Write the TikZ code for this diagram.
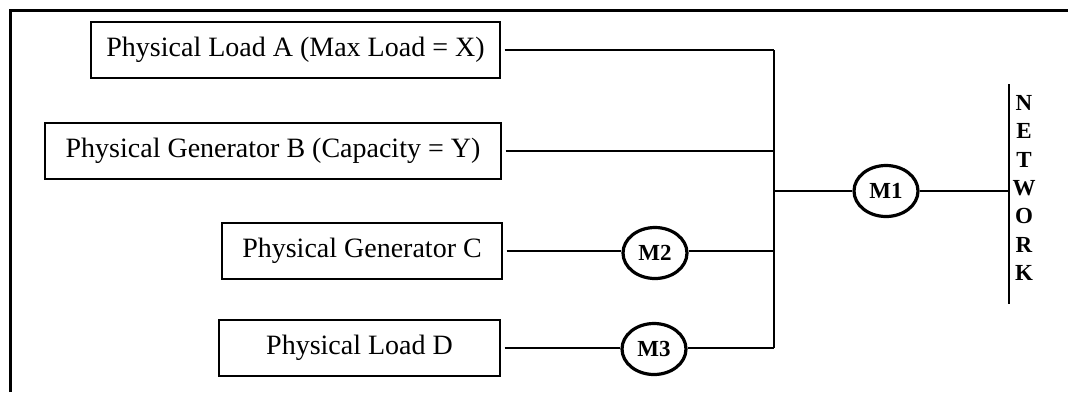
\documentclass[tikz,border=0pt]{standalone}
\usepackage{fontspec}
\setmainfont{Liberation Serif}
\usetikzlibrary{shapes.geometric}

\begin{document}
\begin{tikzpicture}[x=0.5pt,y=-0.5pt]
\tikzstyle{every node}+=[inner sep=0pt]
\tikzstyle{unit}=[draw, line width=0.6pt, font=\fontsize{14}{16}\selectfont, minimum height=28pt]
\tikzstyle{meter}=[draw, ellipse, line width=1.6pt, minimum width=32pt, minimum height=25.5pt, font=\fontsize{11.5}{13}\selectfont\bfseries]
\tikzstyle{wire}=[line width=0.6pt]
\useasboundingbox (0,0) rectangle (1068,392);
% frame
\draw [line width=1.5pt] (10,392) -- (10,10) -- (1068,10);
% units
\node [unit, minimum width=204.5pt] (loadA) at (295.5,50) {Physical Load A (Max Load = X)};
\node [unit, minimum width=228pt] (genB) at (273,151) {Physical Generator B (Capacity = Y)};
\node [unit, minimum width=140pt] (genC) at (362,251) {Physical Generator C};
\node [unit, minimum width=140.5pt] (loadD) at (359.5,348) {Physical Load D};
% meters
\node [meter] (m1) at (886,191) {M1};
\node [meter] (m2) at (655,253) {M2};
\node [meter] (m3) at (654,349) {M3};
% bus and network
\coordinate (bus) at (774,0);
\coordinate (netTop) at (1009,84);
\coordinate (netBot) at (1009,304);
\node [align=center, font=\fontsize{11.5}{14.2}\selectfont\bfseries] (net) at (1024,188) {N\\E\\T\\W\\O\\R\\K};
\draw [wire] (netTop) -- (netBot);
\draw [wire] (loadA.east) ++(4,0) -- (loadA -| bus);
\draw [wire] (genB.east) ++(4,0) -- (genB -| bus);
\draw [wire] (genC.east) ++(4,0) -- (genC -| m2.west);
\draw [wire] (genC -| m2.east) -- (genC -| bus);
\draw [wire] (loadD.east) ++(4,0) -- (loadD -| m3.west);
\draw [wire] (loadD -| m3.east) -- (loadD -| bus);
\draw [wire] (loadA -| bus) -- (loadD -| bus);
\draw [wire] (m1 -| bus) -- (m1);
\draw [wire] (m1) -- (m1 -| netTop);
\end{tikzpicture}
\end{document}
